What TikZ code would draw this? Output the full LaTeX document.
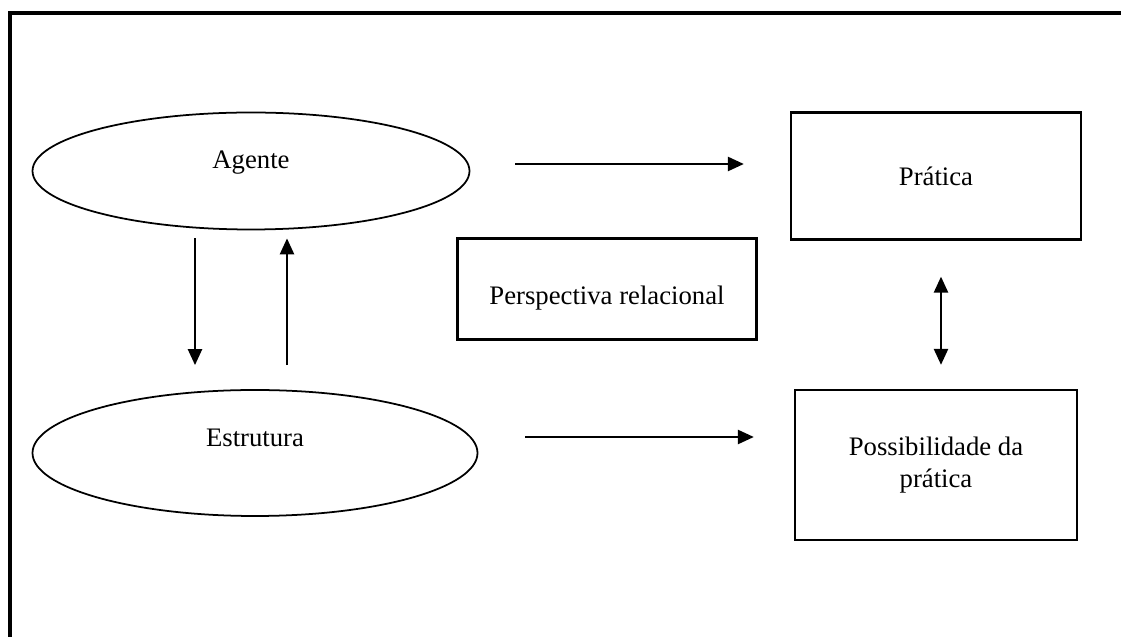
\documentclass[tikz,border=0pt]{standalone}
\usepackage{fontspec}
\setmainfont{Liberation Serif}
\usetikzlibrary{arrows.meta,calc,shapes,positioning}
\tikzset{
    block/.style = {draw, rectangle, line width=1.3pt,
        align=center, font=\fontsize{15.2}{18}\selectfont},
    elip/.style = {draw, ellipse, line width=1pt, inner sep=0pt,
        font=\fontsize{15.2}{18}\selectfont},
    arrow/.style = {draw, ->, line width=1.4pt},
    frame/.style = {line width=2pt}
}

\begin{document}
\begin{tikzpicture}[>={Triangle[length=3.2mm,width=2.8mm]}]
        \useasboundingbox (0,0) rectangle (22.42,-12.74);
        \draw[frame] (22.42,-0.26) -- (0.2,-0.26) -- (0.2,-12.74);
        \node [elip, minimum width=8.74cm, minimum height=2.34cm, text depth=0.45cm] (agente) at (5.02,-3.42) {Agente};
        \node [elip, minimum width=8.9cm, minimum height=2.52cm, text depth=0.6cm] (estrutura) at (5.10,-9.06) {Estrutura};
        \node [block, minimum width=5.8cm, minimum height=2.54cm] (pratica) at (18.72,-3.52) {Prática};
        \node [block, minimum width=5.98cm, minimum height=2.02cm, text height=0.75cm] (relacional) at (12.14,-5.78) {Perspectiva relacional};
        \node [block, minimum width=5.64cm, minimum height=3cm] (possib) at (18.72,-9.3) {Possibilidade da\\prática};
        \draw[arrow] ([shift={(0.9,0.14)}]agente.east) -- ([shift={(-0.92,0.14)}]agente.east -| pratica.west);
        \draw[arrow] ([shift={(0.94,0.32)}]estrutura.east) -- ([shift={(-0.8,0.32)}]estrutura.east -| possib.west);
        \draw[arrow] ([shift={(-1.12,-0.16)}]agente.south) -- ([shift={(-1.12,0.48)}]agente.south |- estrutura.north);
        \draw[arrow] ([shift={(0.72,0.48)}]agente.south |- estrutura.north) -- ([shift={(0.72,-0.16)}]agente.south);
        \draw[arrow, <->] ([shift={(0.1,-0.72)}]pratica.south) -- ([shift={(0.1,0.48)}]pratica.south |- possib.north);
\end{tikzpicture}
\end{document}
